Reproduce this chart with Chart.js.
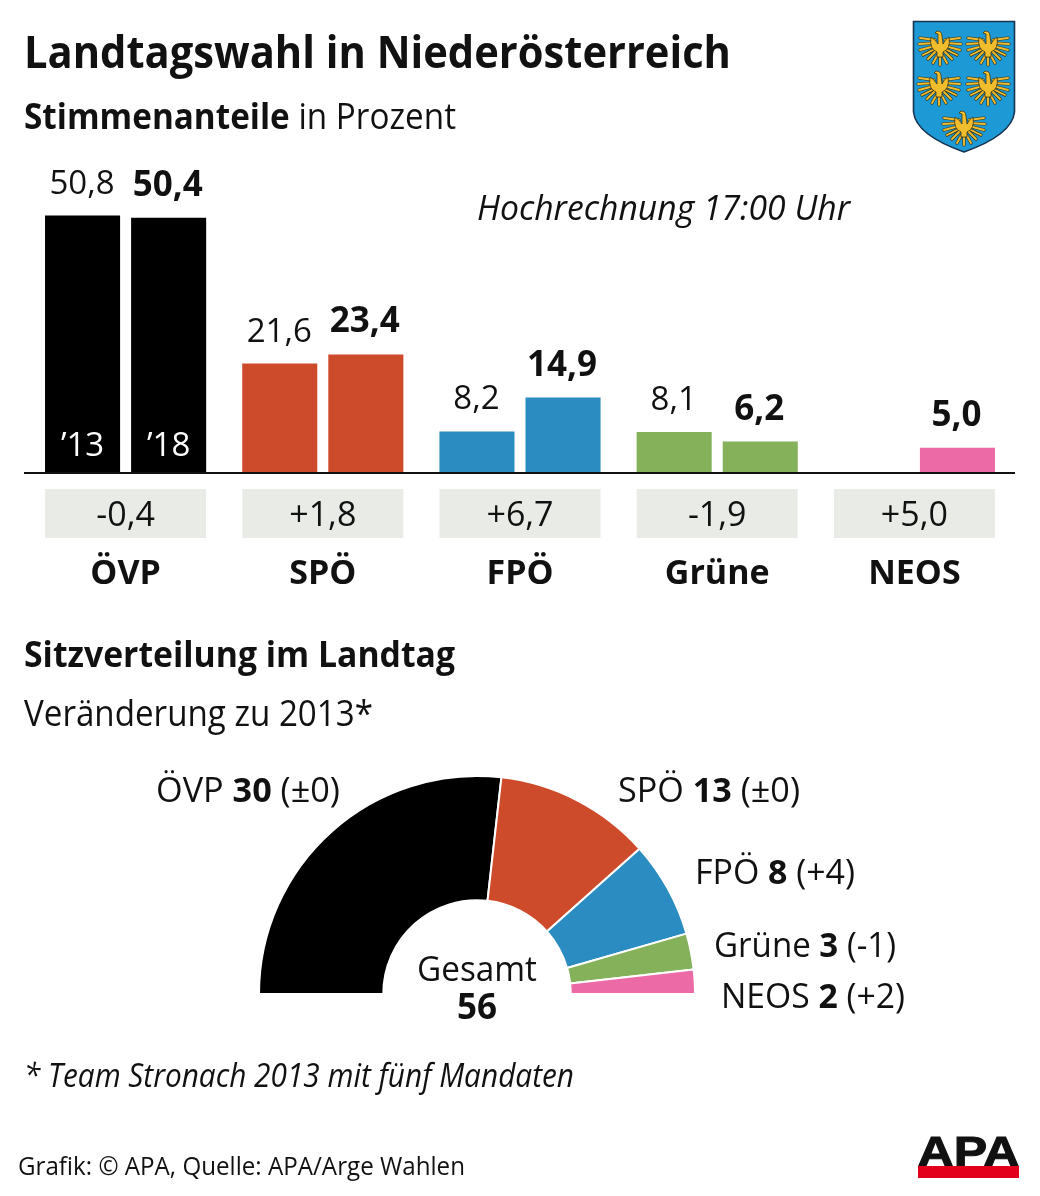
<!DOCTYPE html>
<html lang="de">
<head>
<meta charset="utf-8">
<title>Landtagswahl in Niederösterreich</title>
<script src="https://cdn.jsdelivr.net/npm/chart.js@4"></script>
<style>
  html, body { margin: 0; padding: 0; background: #fff; }
  #page { position: relative; width: 1040px; height: 1196px; overflow: hidden; background: #fff; }
  #page canvas { position: absolute; }
  #barBox { position: absolute; left: 0; top: 0; width: 1040px; height: 600px; }
  #seatBox { position: absolute; left: 258px; top: 775px; width: 438px; height: 220px; }
  #overlay { position: absolute; left: 0; top: 0; pointer-events: none; }
  #overlay text { font-family: "Open Sans", sans-serif; fill: #111; }
</style>
</head>
<body>
<div id="page">
  <div id="barBox"><canvas id="voteChart" width="1040" height="600"></canvas></div>
  <div id="seatBox"><canvas id="seatChart" width="438" height="220"></canvas></div>
  <svg id="overlay" width="1040" height="1196" viewBox="0 0 1040 1196" xmlns="http://www.w3.org/2000/svg">
    <defs>
      <g id="eagle">
        <g fill="none" stroke="#3a3218" stroke-width="3.2" stroke-linecap="round">
          <path d="M-5 -7 L-20 -9 M-5 -4 L-21 -3 M-5 -1 L-20 3 M-5 2 L-17 8 M-4 4 L-12 12"/>
          <path d="M5 -7 L20 -9 M5 -4 L21 -3 M5 -1 L20 3 M5 2 L17 8 M4 4 L12 12"/>
          <path d="M-3 9 L-7 16 M3 9 L7 16 M0 9 L0 18"/>
        </g>
        <g fill="none" stroke="#f0bd2c" stroke-width="1.9" stroke-linecap="round">
          <path d="M-5 -7 L-20 -9 M-5 -4 L-21 -3 M-5 -1 L-20 3 M-5 2 L-17 8 M-4 4 L-12 12"/>
          <path d="M5 -7 L20 -9 M5 -4 L21 -3 M5 -1 L20 3 M5 2 L17 8 M4 4 L12 12"/>
          <path d="M-3 9 L-7 16 M3 9 L7 16 M0 9 L0 18"/>
        </g>
        <path d="M-9 -10 Q-11 2 -3 5 L-3 10 L3 10 L3 5 Q11 2 9 -10 Q5 -8 3 -3 L2 -11 Q2 -16 -3 -16 L-5 -14 L-2 -13 L-2 -3 Q-5 -8 -9 -10 Z" fill="#f0bd2c" stroke="#3a3218" stroke-width="0.8"/>
      </g>
    </defs>

    <!-- Wappen -->
    <path d="M913.5 21.5 H1014.5 V112 Q1012 135 964 152 Q916 135 913.5 112 Z" fill="#1d9ad6" stroke="#16344f" stroke-width="1.6"/>
    <use href="#eagle" x="940" y="47"/>
    <use href="#eagle" x="988" y="47"/>
    <use href="#eagle" x="939" y="87"/>
    <use href="#eagle" x="988" y="87"/>
    <use href="#eagle" x="964" y="127"/>

    <!-- Ueberschriften -->
    <text x="24" y="68" font-size="45" font-weight="700" textLength="707" lengthAdjust="spacingAndGlyphs">Landtagswahl in Niederösterreich</text>
    <text x="24" y="129" font-size="36" textLength="432" lengthAdjust="spacingAndGlyphs"><tspan font-weight="700">Stimmenanteile</tspan> in Prozent</text>
    <text x="477" y="220" font-size="35" font-style="italic" textLength="373" lengthAdjust="spacingAndGlyphs">Hochrechnung 17:00 Uhr</text>
    <text x="24" y="667" font-size="36" font-weight="700" textLength="431" lengthAdjust="spacingAndGlyphs">Sitzverteilung im Landtag</text>
    <text x="24" y="726" font-size="36" textLength="349" lengthAdjust="spacingAndGlyphs">Veränderung zu 2013*</text>

    <!-- Mitte Halbkreis -->
    <text x="477" y="981" font-size="34" text-anchor="middle" textLength="120" lengthAdjust="spacingAndGlyphs">Gesamt</text>
    <text id="seatTotal" x="477" y="1019" font-size="35" font-weight="700" text-anchor="middle"></text>

    <!-- Fuss -->
    <text x="24" y="1087" font-size="32" font-style="italic" textLength="550" lengthAdjust="spacingAndGlyphs">* Team Stronach 2013 mit fünf Mandaten</text>
    <text x="18" y="1175" font-size="25" textLength="447" lengthAdjust="spacingAndGlyphs">Grafik: © APA, Quelle: APA/Arge Wahlen</text>

    <!-- APA Logo -->
    <text transform="translate(917.5 1166) scale(1.62 1)" font-size="42" style="font-family:'Liberation Sans',sans-serif;font-weight:700;fill:#111;stroke:#111;stroke-width:1" textLength="63" lengthAdjust="spacingAndGlyphs">APA</text>
    <rect x="918" y="1166" width="101" height="12" fill="#e2001a"/>
  </svg>
</div>

<script>
// Daten
const categories = ["ÖVP", "SPÖ", "FPÖ", "Grüne", "NEOS"];
const votes2013 = [50.8, 21.6, 8.2, 8.1, null];
const votes2018 = [50.4, 23.4, 14.9, 6.2, 5.0];
const voteChanges = ["-0,4", "+1,8", "+6,7", "-1,9", "+5,0"];
const yearLabels = ["’13", "’18"];
const seats = [30, 13, 8, 3, 2];
const seatChanges = ["±0", "±0", "+4", "-1", "+2"];
const partyColors = ["#000000", "#cd4b2b", "#2a8cc0", "#84b15a", "#ec6aa5"];

const font = '"Open Sans", sans-serif';
const comma = (v) => v.toFixed(1).replace(".", ",");

// Zahlen ueber den Balken, Jahre im ersten Balken, graue Differenz-Felder, Grundlinie
const barExtras = {
  id: "barExtras",
  afterDatasetsDraw(chart) {
    const { ctx, chartArea, scales } = chart;
    const bars13 = chart.getDatasetMeta(0).data;
    const bars18 = chart.getDatasetMeta(1).data;
    ctx.save();
    ctx.textAlign = "center";
    ctx.textBaseline = "alphabetic";

    categories.forEach((name, i) => {
      if (votes2013[i] !== null) {
        ctx.fillStyle = "#111";
        ctx.font = "400 33px " + font;
        ctx.fillText(comma(votes2013[i]), bars13[i].x - 0.5, bars13[i].y - 22);
      }
      ctx.fillStyle = "#111";
      ctx.font = "700 35px " + font;
      ctx.fillText(comma(votes2018[i]), bars18[i].x - 1, bars18[i].y - 22);

      // Differenz-Feld
      const cx = scales.x.getPixelForValue(i);
      ctx.fillStyle = "#e9ece6";
      ctx.fillRect(cx - 80.5, chartArea.bottom + 16, 161, 49);
      ctx.fillStyle = "#111";
      ctx.font = "400 34px " + font;
      ctx.fillText(voteChanges[i], cx, chartArea.bottom + 53);
    });

    ctx.fillStyle = "#fff";
    ctx.font = "400 33px " + font;
    ctx.fillText(yearLabels[0], bars13[0].x, chartArea.bottom - 17);
    ctx.fillText(yearLabels[1], bars18[0].x, chartArea.bottom - 17);

    ctx.strokeStyle = "#111";
    ctx.lineWidth = 2;
    ctx.beginPath();
    ctx.moveTo(chartArea.left - 3, chartArea.bottom);
    ctx.lineTo(chartArea.right + 2, chartArea.bottom);
    ctx.stroke();
    ctx.restore();
  },
};

new Chart(document.getElementById("voteChart"), {
  type: "bar",
  data: {
    labels: categories,
    datasets: [
      { label: "2013", data: votes2013, backgroundColor: partyColors },
      { label: "2018", data: votes2018, backgroundColor: partyColors },
    ],
  },
  options: {
    responsive: false,
    animation: false,
    categoryPercentage: 0.873,
    barPercentage: 0.872,
    layout: { padding: { left: 27, right: 27, top: 169, bottom: 0 } },
    plugins: { legend: { display: false }, tooltip: { enabled: false } },
    scales: {
      y: { display: false, min: 0, max: 60 },
      x: {
        afterFit(scale) { scale.height = 127; },
        border: { display: false },
        grid: { display: false },
        ticks: {
          padding: 73,
          color: "#111",
          maxRotation: 0,
          font: { family: font, size: 34, weight: "700" },
        },
      },
    },
  },
  plugins: [barExtras],
});

new Chart(document.getElementById("seatChart"), {
  type: "doughnut",
  data: {
    labels: categories,
    datasets: [{ data: seats, backgroundColor: partyColors, borderColor: "#fff", borderWidth: 2 }],
  },
  options: {
    responsive: false,
    animation: false,
    rotation: -90,
    circumference: 180,
    cutout: "43%",
    plugins: { legend: { display: false }, tooltip: { enabled: false } },
  },
});

// Beschriftung der Sitzverteilung
const seatLabelSpots = [
  { x: 156, y: 802, w: 184 },
  { x: 618, y: 802, w: 182 },
  { x: 695, y: 884, w: 160 },
  { x: 714, y: 957, w: 182 },
  { x: 721, y: 1008, w: 184 },
];
const overlay = document.getElementById("overlay");
const svgNs = "http://www.w3.org/2000/svg";
document.getElementById("seatTotal").textContent = seats.reduce((a, b) => a + b, 0);

categories.forEach((name, i) => {
  const spot = seatLabelSpots[i];
  const label = document.createElementNS(svgNs, "text");
  label.setAttribute("x", spot.x);
  label.setAttribute("y", spot.y);
  label.setAttribute("font-size", 34);
  label.setAttribute("textLength", spot.w);
  label.setAttribute("lengthAdjust", "spacingAndGlyphs");
  const bold = document.createElementNS(svgNs, "tspan");
  bold.setAttribute("font-weight", "700");
  bold.textContent = seats[i];
  label.append(name + " ", bold, " (" + seatChanges[i] + ")");
  overlay.appendChild(label);
});
</script>
</body>
</html>
